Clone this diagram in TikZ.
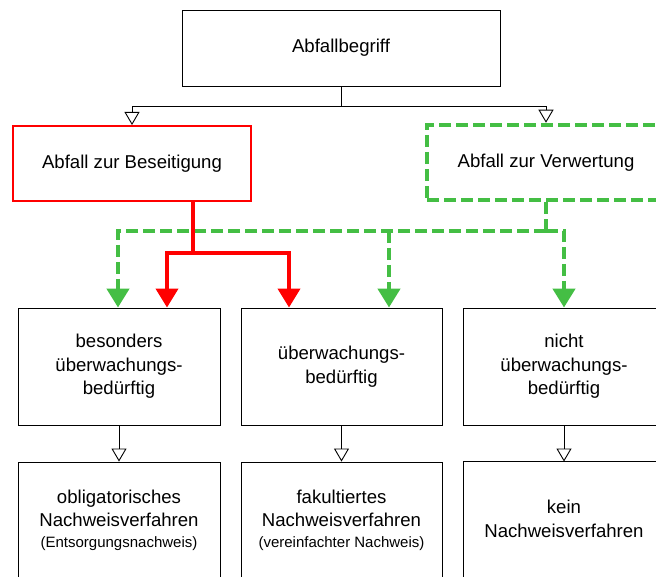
\documentclass[tikz,border=0pt]{standalone}
\usepackage{fontspec}
\setmainfont{Liberation Sans}
\usetikzlibrary{arrows.meta}
\definecolor{rgreen}{RGB}{68,190,68}
\definecolor{rred}{RGB}{255,0,0}
\tikzset{
  box/.style={draw=black, line width=0.9pt, minimum height=#1, inner sep=0pt, align=center,
    font=\fontsize{18.6}{23.5}\selectfont},
  box/.default=117pt,
  thin/.style={draw=black, line width=0.9pt, -{Triangle[open,length=13pt,width=15pt,fill=white]}},
  redlink/.style={draw=rred, line width=4pt, -{Triangle[length=19pt,width=22pt]}},
  greenline/.style={draw=rgreen, line width=4.5pt, dash pattern=on 12pt off 5pt},
  greenlink/.style={greenline, -{Triangle[length=19pt,width=22pt]}}
}
\begin{document}
\begin{tikzpicture}[x=1pt,y=-1pt]
\useasboundingbox (0,0) rectangle (656,577);
\begin{scope}
\clip (0,0) rectangle (656,577);

% top level
\node[box=76pt, minimum width=318pt] (top) at (341,48) {Abfallbegriff};

% second level
\node[box=75pt, minimum width=238pt, draw=rred, line width=2pt] (bes) at (132,163.5) {Abfall zur Beseitigung};
\node[box=75pt, minimum width=238pt, draw=rgreen, line width=4.5pt, dash pattern=on 12pt off 5pt] (ver) at (546,162.5) {Abfall zur Verwertung};

% classification
\node[box, minimum width=202pt] (m1) at (119,366.5) {besonders\\überwachungs-\\bedürftig};
\node[box, minimum width=201pt] (m2) at (341.5,366.5) {überwachungs-\\bedürftig};
\node[box, minimum width=202pt] (m3) at (564,366.5) {nicht\\überwachungs-\\bedürftig};

% proof procedure
\node[box=116pt, minimum width=202pt] (b1) at (119,520) {obligatorisches\\Nachweisverfahren\\[-3pt]{\fontsize{15}{20}\selectfont (Entsorgungsnachweis)}};
\node[box=116pt, minimum width=201pt] (b2) at (341.5,520) {fakultiertes\\Nachweisverfahren\\[-3pt]{\fontsize{15}{20}\selectfont (vereinfachter Nachweis)}};
\node[box=116pt, minimum width=202pt] (b3) at (564,519) {kein\\Nachweisverfahren};

% branching from the top
\coordinate (tj) at (341,106);
\draw[thin] (top.south) -- (tj) -| (bes.north);
\draw[thin] (tj) -| (ver.north);

% recovery links
\coordinate (gj) at (546,231);
\coordinate (gm) at (389,231);
\draw[greenline] (ver.south) -- (gj);
\draw[greenlink] (gj) -| ([xshift=-1pt]m1.north);
\draw[greenlink] (gj) -| (m3.north);
\draw[greenlink] (gm) -- (gm |- m2.north);

% disposal links
\coordinate (rj) at (193,253);
\draw[redlink] (bes.south -| rj) -- (rj) -| ([xshift=48pt]m1.north);
\draw[redlink] (rj) -| ([xshift=-52.5pt]m2.north);

% lower arrows
\draw[thin] (m1.south) -- (b1.north);
\draw[thin] (m2.south) -- (b2.north);
\draw[thin] (m3.south) -- (b3.north |- m3.south) -- ([yshift=-1pt]b3.north);
\end{scope}
\end{tikzpicture}
\end{document}
